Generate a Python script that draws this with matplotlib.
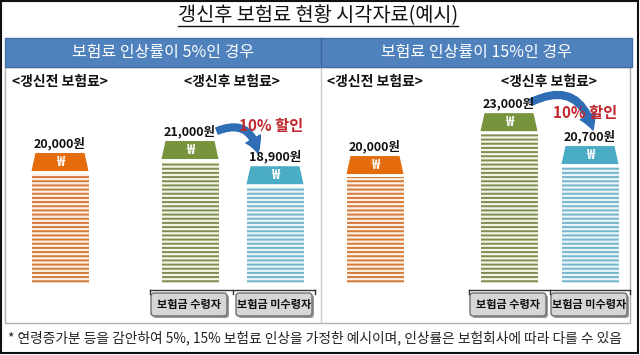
import matplotlib
matplotlib.use("Agg")
import matplotlib.pyplot as plt
from matplotlib.patches import Rectangle, Polygon, FancyBboxPatch
from matplotlib.transforms import offset_copy

plt.rcParams['font.family'] = ['Noto Sans CJK KR', 'DejaVu Sans']
plt.rcParams['hatch.linewidth'] = 1.4

# Data
# ===================================
title = "갱신후 보험료 현황 시각자료(예시)"
panel_titles = ["보험료 인상률이 5%인 경우", "보험료 인상률이 15%인 경우"]
group_labels = ["<갱신전 보험료>", "<갱신후 보험료>"]
before_renewal = [20000, 20000]
after_renewal = [21000, 23000]
after_discount = [18900, 20700]
discount_label = "10% 할인"
button_labels = ["보험금 수령자", "보험금 미수령자"]
footnote = "* 연령증가분 등을 감안하여 5%, 15% 보험료 인상을 가정한 예시이며, 인상률은 보험회사에 따라 다를 수 있음"

# Layout
# ===================================
W, H = 640, 355
BAR_W = 57
CAP_PX = 18
GAP_PX = 3
bar_x = [[60, 190, 275], [375, 509, 590]]
panel_ylim = [(9170, 25250), (11120, 24620)]
bar_colors = [("#e46c0a", "#d27a3a", "#fdf1e6"),
              ("#77933c", "#7d8d52", "#f4f5e4"),
              ("#4bacc6", "#74b6cb", "#eaf5f9")]

fig = plt.figure(figsize=(W / 100, H / 100), dpi=100)
bg = fig.add_axes([0, 0, 1, 1])
bg.set_xlim(0, W)
bg.set_ylim(H, 0)
bg.axis("off")

# frame, header, panels
bg.add_patch(Rectangle((1, 1), W - 3, H - 3, fill=False, ec="#111111", lw=1.5))
bg.add_patch(Rectangle((5, 67), 625, 256, fill=False, ec="#b0b0b0", lw=1))
bg.plot([321, 321], [67, 323], color="#c8c8c8", lw=1)
bg.add_patch(Rectangle((5, 38), 627, 29, fc="#4f81bd", ec="#3f6fa6", lw=1))
bg.plot([321, 321], [38, 67], color="#3a679c", lw=1)

t = bg.text(318, 15.5, title, ha="center", va="center", fontsize=14.2, color="#111111")
fig.canvas.draw()
bb = t.get_window_extent().transformed(bg.transData.inverted())
bg.plot([bb.x0, bb.x1], [26, 26], color="#111111", lw=1)

for i, pt in enumerate(panel_titles):
    cx = [163, 476][i]
    bg.text(cx, 52.5, pt, ha="center", va="center", fontsize=11.5, color="white")

bg.text(8, 338, footnote, ha="left", va="center", fontsize=9.9, color="#222222")

# Bars
# ===================================
ax_pos = [[0, 72 / H, 0.5, 193 / H], [0.5, 72 / H, 0.5, 193 / H]]

for p in range(2):
    ax = fig.add_axes(ax_pos[p])
    ax.set_xlim(p * 320, p * 320 + 320)
    ax.set_ylim(*panel_ylim[p])
    ax.axis("off")
    ax.patch.set_alpha(0)

    lo, hi = panel_ylim[p]
    per_px = (hi - lo) / 193
    cap_h = CAP_PX * per_px
    gap = GAP_PX * per_px

    values = [before_renewal[p], after_renewal[p], after_discount[p]]
    for k, v in enumerate(values):
        x = bar_x[p][k]
        cap_c, line_c, face_c = bar_colors[k]
        ax.bar(x, v - cap_h - gap - lo, bottom=lo, width=BAR_W, color=face_c,
               edgecolor=line_c, linewidth=0, hatch="----")
        ax.add_patch(Polygon([(x - BAR_W / 2, v - cap_h), (x + BAR_W / 2, v - cap_h),
                              (x + BAR_W / 2 - 4, v), (x - BAR_W / 2 + 4, v)],
                             closed=True, fc=cap_c, ec="none"))
        ax.text(x, v - cap_h / 2, "₩", ha="center", va="center", color="white",
                fontsize=10, fontweight="bold")
        ax.annotate(f"{v:,}원", xy=(x, v), xytext=(0, 2), textcoords="offset points",
                    ha="center", va="bottom", fontsize=9, fontweight="bold", color="#111111",
                    zorder=5)

    # discount arrow and label
    gx, bx = bar_x[p][1], bar_x[p][2]
    gv, bv = after_renewal[p], after_discount[p]
    start = [(27, 10), (22, 11)][p]
    end = [(-17, 13), (3, 16)][p]
    ax.annotate("", xy=(bx, bv), xycoords=offset_copy(ax.transData, fig=fig, x=end[0], y=end[1], units="dots"),
                xytext=(gx, gv), textcoords=offset_copy(ax.transData, fig=fig, x=start[0], y=start[1], units="dots"),
                arrowprops=dict(arrowstyle="simple,head_length=0.9,head_width=1.0,tail_width=0.4",
                                connectionstyle=f"arc3,rad={[-0.6, -0.6][p]}",
                                color="#2f6db5", mutation_scale=12, shrinkA=0, shrinkB=0),
                zorder=3)
    lab = [(-4, 40), (-5, 33)][p]
    ax.annotate(discount_label, xy=(bx, bv), xytext=lab, textcoords="offset pixels",
                ha="center", va="center", fontsize=11, fontweight="bold", color="#c0262d",
                zorder=6)

    # group labels
    bg.text(bar_x[p][0], 82, group_labels[0], ha="center", va="center",
            fontsize=10, fontweight="bold", color="#111111")
    bg.text((gx + bx) / 2 - 1, 82, group_labels[1], ha="center", va="center",
            fontsize=10, fontweight="bold", color="#111111")

    # bracket and buttons
    bw = 80
    left, right = gx - bw / 2, bx + bw / 2
    bg.plot([left, right], [290, 290], color="#333333", lw=1)
    for xx in [left, (gx + bx) / 2, right]:
        bg.plot([xx, xx], [290, 294], color="#333333", lw=1)
    for k, cx in enumerate([gx, bx]):
        bg.add_patch(FancyBboxPatch((cx - bw / 2 + 3, 295), bw - 4, 23,
                                    boxstyle="round,pad=0,rounding_size=3",
                                    fc="#9a9a9a", ec="none"))
        bg.add_patch(FancyBboxPatch((cx - bw / 2 + 1, 293), bw - 4, 23,
                                    boxstyle="round,pad=0,rounding_size=3",
                                    fc="#d6d6d6", ec="#6f6f6f", lw=1))
        bg.text(cx - 1, 304.5, button_labels[k], ha="center", va="center",
                fontsize=8, fontweight="bold", color="#111111")

fig.savefig("out.png", dpi=100)
